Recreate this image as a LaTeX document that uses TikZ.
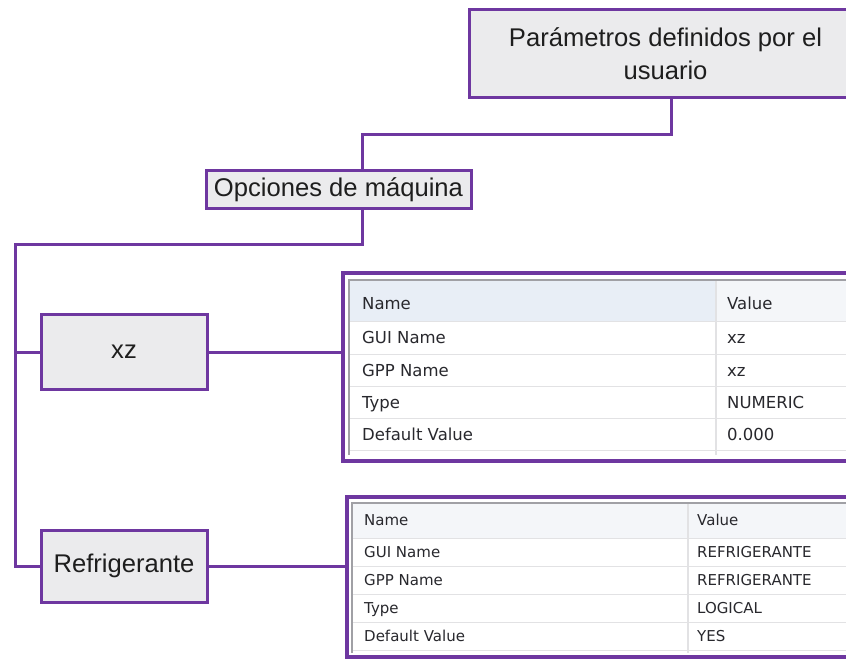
\documentclass[tikz,border=0pt]{standalone}
\usepackage{fontspec}
\setmainfont{Liberation Sans}
\newfontfamily\uifont{DejaVu Sans}
\definecolor{tree}{RGB}{110,55,160}
\definecolor{boxfill}{RGB}{235,235,237}
\definecolor{ink}{RGB}{30,30,30}
\definecolor{uiink}{RGB}{40,40,45}
\definecolor{gridline}{RGB}{226,226,228}
\definecolor{tblborder}{RGB}{160,160,165}
\definecolor{hdrA}{RGB}{232,238,246}
\definecolor{hdrB}{RGB}{244,246,249}

\tikzset{
  labelbox/.style={draw=tree, line width=3pt, fill=boxfill, text=ink, inner sep=0pt,
    font=\fontsize{25.6}{33}\selectfont, align=center},
  link/.style={draw=tree, line width=3pt},
  tblframe/.style={draw=tree, line width=4pt, fill=white, inner sep=0pt},
  cellA/.style={anchor=base west, inner sep=0pt, text=uiink, font=\uifont\fontsize{16.5}{18}\selectfont},
  cellB/.style={anchor=base west, inner sep=0pt, text=uiink, font=\uifont\fontsize{15}{17}\selectfont},
}

\begin{document}
\begin{tikzpicture}[x=1pt,y=-1pt]
\useasboundingbox (0,0) rectangle (846,660);
\clip (0,0) rectangle (846,660);
\fill[white] (0,0) rectangle (846,660);

% tree boxes
\node[labelbox, minimum width=393pt, minimum height=88pt] (top) at (665.5,54)
  {Parámetros definidos por el\\usuario};
\node[labelbox, minimum width=265pt, minimum height=38pt] (opc) at (338.5,190)
  {Opciones de máquina};
\node[labelbox, minimum width=166pt, minimum height=74pt] (xz) at (124,352) {xz};
\node[labelbox, minimum width=166pt, minimum height=72pt] (ref) at (124,566) {Refrigerante};

% tree connectors
\coordinate (j1) at (671,135);
\coordinate (j2) at (362,135);
\coordinate (j3) at (362,245);
\coordinate (j4) at (15,245);
\draw[link] (j1 |- top.south) -- (j1) -- (j2) -- (j2 |- opc.north);
\draw[link] (j3 |- opc.south) -- (j3) -- (j4) -- (j4 |- ref.west) -- (ref.west);
\draw[link] (j4 |- xz.west) -- (xz.west);

% property table for xz
\node[tblframe, minimum width=557pt, minimum height=188pt] (tab1) at (621.5,367) {};
\fill[hdrA] (349,280) rectangle (716,322);
\fill[hdrB] (716,280) rectangle (900,322);
\foreach \y in {322,354,386,418,450}
  \draw[gridline, line width=1pt] (349,\y) -- (900,\y);
\draw[gridline, line width=1.5pt] (716,280) -- (716,455);
\draw[tblborder, line width=1.5pt] (349,455) -- (349,280) -- (900,280);
\node[cellA] (t1n0) at (362,309) {Name};
\node[cellA] (t1v0) at (727,309) {Value};
\node[cellA] (t1n1) at (362,344) {GUI Name};
\node[cellA] (t1v1) at (727,344) {xz};
\node[cellA] (t1n2) at (362,376) {GPP Name};
\node[cellA] (t1v2) at (727,376) {xz};
\node[cellA] (t1n3) at (362,408) {Type};
\node[cellA] (t1v3) at (727,408) {NUMERIC};
\node[cellA] (t1n4) at (362,440) {Default Value};
\node[cellA] (t1v4) at (727,440) {0.000};

% property table for Refrigerante
\node[tblframe, minimum width=553pt, minimum height=160pt] (tab2) at (623.5,577) {};
\fill[hdrB] (352,503) rectangle (900,538);
\foreach \y in {538,566,594,622,650}
  \draw[gridline, line width=1pt] (352,\y) -- (900,\y);
\draw[gridline, line width=1.5pt] (688,503) -- (688,653);
\draw[tblborder, line width=1.5pt] (352,653) -- (352,503) -- (900,503);
\node[cellB] (t2n0) at (364,525.5) {Name};
\node[cellB] (t2v0) at (697,525.5) {Value};
\node[cellB] (t2n1) at (364,557.5) {GUI Name};
\node[cellB] (t2v1) at (697,557.5) {REFRIGERANTE};
\node[cellB] (t2n2) at (364,585.5) {GPP Name};
\node[cellB] (t2v2) at (697,585.5) {REFRIGERANTE};
\node[cellB] (t2n3) at (364,613.5) {Type};
\node[cellB] (t2v3) at (697,613.5) {LOGICAL};
\node[cellB] (t2n4) at (364,641.5) {Default Value};
\node[cellB] (t2v4) at (697,641.5) {YES};

% links from options to their tables
\draw[link] (xz.east) -- (xz.east -| tab1.west);
\draw[link] (ref.east) -- (ref.east -| tab2.west);
\end{tikzpicture}
\end{document}
